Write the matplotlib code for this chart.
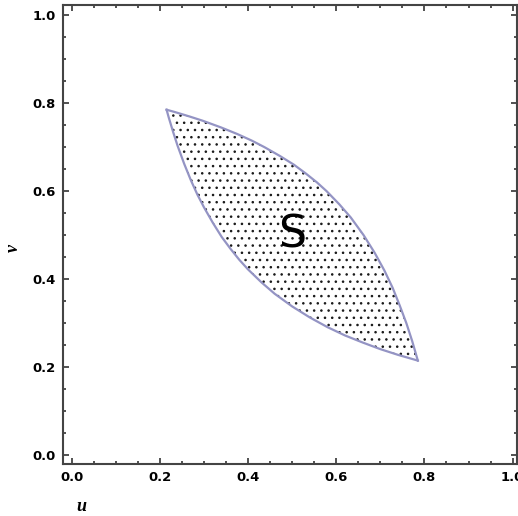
import matplotlib
matplotlib.use("Agg")
import matplotlib.pyplot as plt
from matplotlib.ticker import MultipleLocator

# ── Data ─────────────────────────────────────────────────────────────────────
lower_u = [0.215, 0.22, 0.23, 0.24, 0.255, 0.27, 0.285, 0.30, 0.32, 0.34, 0.36, 0.38,
           0.40, 0.43, 0.46, 0.50, 0.54, 0.58, 0.62, 0.66, 0.70, 0.74, 0.785]
lower_v = [0.785, 0.767, 0.734, 0.703, 0.662, 0.625, 0.592, 0.563, 0.528, 0.496, 0.469, 0.444,
           0.422, 0.393, 0.367, 0.338, 0.313, 0.291, 0.272, 0.256, 0.241, 0.228, 0.215]

upper_u = [0.215, 0.233, 0.266, 0.297, 0.338, 0.375, 0.408, 0.437, 0.472, 0.504, 0.531, 0.556,
           0.578, 0.607, 0.633, 0.662, 0.687, 0.709, 0.728, 0.744, 0.759, 0.772, 0.785]
upper_v = [0.785, 0.780, 0.770, 0.760, 0.745, 0.730, 0.715, 0.700, 0.680, 0.660, 0.640, 0.620,
           0.600, 0.570, 0.540, 0.500, 0.460, 0.420, 0.380, 0.340, 0.300, 0.260, 0.215]

region_label = "S"
region_pos = (0.50, 0.50)
ticks_major = [0.0, 0.2, 0.4, 0.6, 0.8, 1.0]

# ── Plot ─────────────────────────────────────────────────────────────────────
# dpi 130 makes the stipple hatch cell larger in pixels (sparser dots);
# sizes below are in points and scaled by K so the layout stays the same
DPI = 130
K = 100 / DPI

plt.rcParams["hatch.linewidth"] = 0.6
plt.rcParams["hatch.color"] = "#1a1a1a"

fig = plt.figure(figsize=(518 / DPI, 516 / DPI), dpi=DPI)
ax = fig.add_axes([63 / 518, 52 / 516, (517 - 63) / 518, (464 - 5) / 516])

curve_col = "#9494c4"

poly_u = lower_u + upper_u[::-1]
poly_v = lower_v + upper_v[::-1]
ax.fill(poly_u, poly_v, facecolor="white", edgecolor="#1a1a1a", lw=0, hatch="...")
ax.plot(lower_u, lower_v, color=curve_col, lw=1.6 * K)
ax.plot(upper_u, upper_v, color=curve_col, lw=1.6 * K)

ax.text(region_pos[0], region_pos[1], region_label, fontsize=32 * K,
        ha="center", va="center", color="black")

ax.set_xlim(-0.02, 1.01)
ax.set_ylim(-0.02, 1.023)
ax.set_xticks(ticks_major)
ax.set_yticks(ticks_major)
ax.set_xticklabels([f"{t:.1f}" for t in ticks_major])
ax.set_yticklabels([f"{t:.1f}" for t in ticks_major])
ax.xaxis.set_minor_locator(MultipleLocator(0.05))
ax.yaxis.set_minor_locator(MultipleLocator(0.05))
ax.tick_params(which="both", direction="in", top=True, right=True,
               color="#333333", width=1.2 * K)
ax.tick_params(which="major", length=4 * K, labelsize=9.5 * K, pad=5 * K)
ax.tick_params(which="minor", length=2.5 * K)
for lab in ax.get_xticklabels() + ax.get_yticklabels():
    lab.set_fontweight("bold")

for sp in ax.spines.values():
    sp.set_color("#444444")
    sp.set_linewidth(1.5 * K)

ax.set_xlabel("u", fontsize=13 * K, family="Liberation Serif", style="italic",
              weight="bold")
ax.xaxis.set_label_coords(0.04, -0.075)
ax.set_ylabel("v", fontsize=13 * K, family="Liberation Serif", style="italic",
              weight="bold")
ax.yaxis.set_label_coords(-0.09, 0.47)

fig.savefig("out.png", dpi=DPI)
